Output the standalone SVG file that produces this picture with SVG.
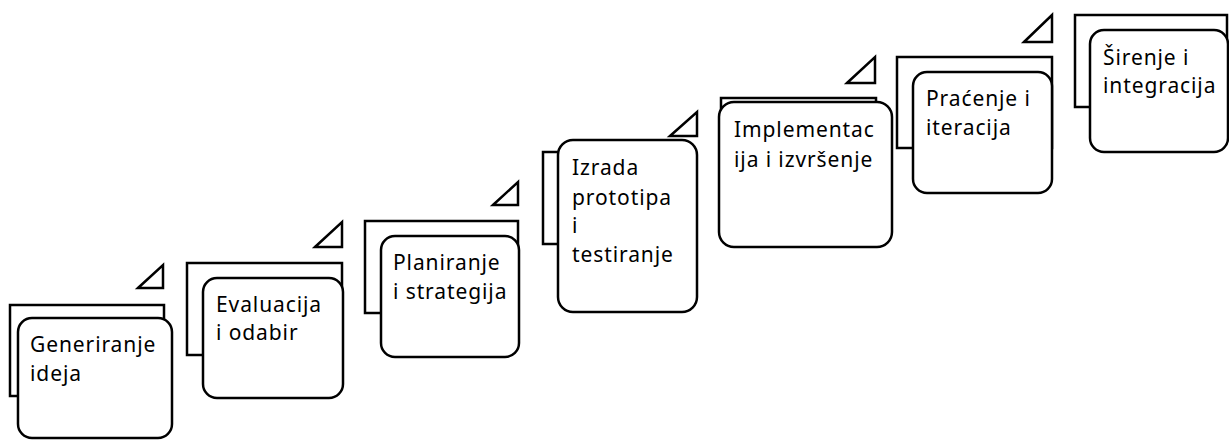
<svg xmlns="http://www.w3.org/2000/svg" width="1229" height="442" viewBox="0 0 1229 442">
<style>
.back{fill:#fff;stroke:#000;stroke-width:2.5}
.front{fill:#fff;stroke:#000;stroke-width:2.5}
.tri{fill:#fff;stroke:#000;stroke-width:2.5;stroke-linejoin:miter}
text{font-family:"Noto Sans","Open Sans",sans-serif;font-size:21px;letter-spacing:0.9px;fill:#000}
</style>
<rect width="1229" height="442" fill="#fff"/>
<g id="connectors">
<polygon class="tri" points="138,288 163,265 163,288"/>
<polygon class="tri" points="315,247 342,222 342,247"/>
<polygon class="tri" points="493,205 518,182 518,205"/>
<polygon class="tri" points="670,136 697,112 697,136"/>
<polygon class="tri" points="847,83 875,57 875,83"/>
<polygon class="tri" points="1024,42 1052,15 1052,42"/>
</g>
<g id="node1">
<rect class="back" x="10" y="305" width="154" height="91"/>
<rect class="front" x="18" y="318" width="154" height="120" rx="14"/>
<text x="30" y="352">Generiranje</text>
<text x="30" y="381">ideja</text>
</g>
<g id="node2">
<rect class="back" x="187" y="263" width="155" height="92"/>
<rect class="front" x="203" y="278" width="140" height="120" rx="14"/>
<text x="216" y="312">Evaluacija</text>
<text x="216" y="340">i odabir</text>
</g>
<g id="node3">
<rect class="back" x="365" y="221" width="153" height="92"/>
<rect class="front" x="381" y="236" width="138" height="121" rx="14"/>
<text x="393" y="270">Planiranje</text>
<text x="393" y="299">i strategija</text>
</g>
<g id="node4">
<rect class="back" x="543" y="152" width="140" height="92"/>
<rect class="front" x="558" y="140" width="139" height="172" rx="15"/>
<text x="572" y="175">Izrada</text>
<text x="572" y="205">prototipa</text>
<text x="572" y="233">i</text>
<text x="572" y="262">testiranje</text>
</g>
<g id="node5">
<rect class="back" x="721" y="98" width="155" height="92"/>
<rect class="front" x="719" y="102" width="173" height="145" rx="15"/>
<text x="734" y="137">Implementac</text>
<text x="734" y="167">ija i izvršenje</text>
</g>
<g id="node6">
<rect class="back" x="897" y="57" width="155" height="91"/>
<rect class="front" x="913" y="72" width="139" height="121" rx="14"/>
<text x="926" y="106">Praćenje i</text>
<text x="926" y="135">iteracija</text>
</g>
<g id="node7">
<rect class="back" x="1075" y="15" width="152" height="92"/>
<rect class="front" x="1090" y="30" width="138" height="122" rx="14"/>
<text x="1103" y="65">Širenje i</text>
<text x="1103" y="93">integracija</text>
</g>
</svg>
